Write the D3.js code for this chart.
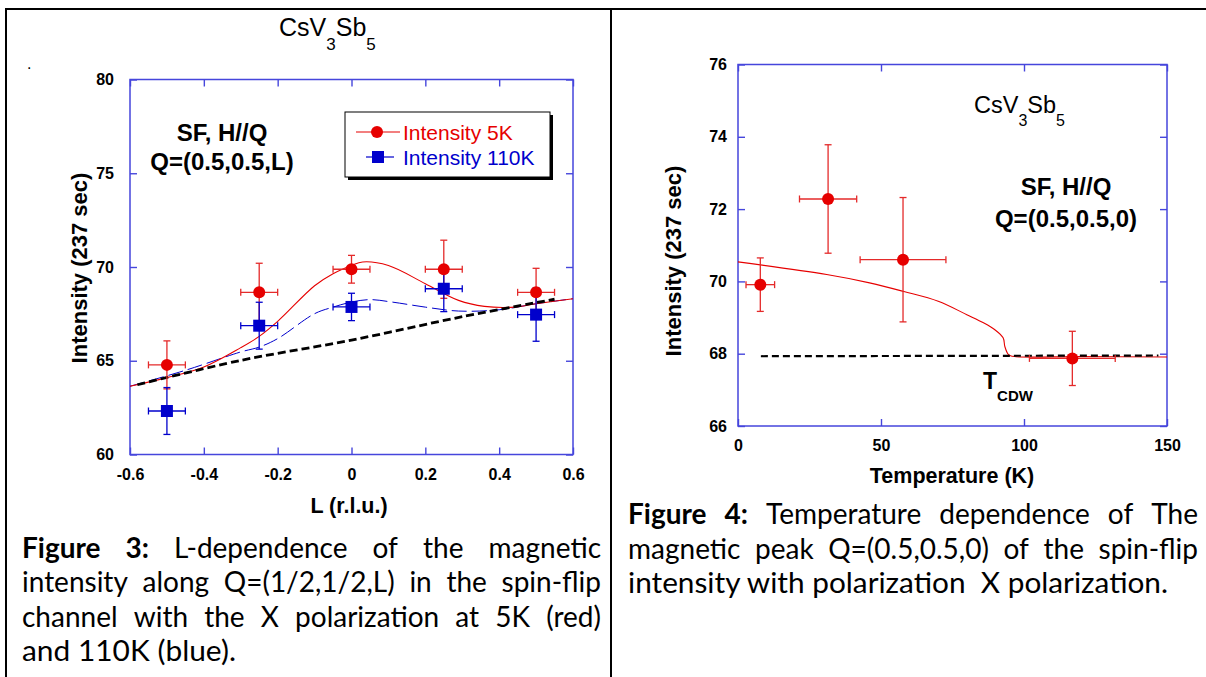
<!DOCTYPE html>
<html><head><meta charset="utf-8">
<script src="https://cdn.jsdelivr.net/npm/d3@7"></script>
<style>
html,body{margin:0;padding:0;background:#fff;}
svg{display:block;}
</style></head><body>
<svg id="c" width="1206" height="677"></svg>
<script>
// ---------- Figure 3 data (L-dependence) ----------
const lTicks = [-0.6, -0.4, -0.2, 0, 0.2, 0.4, 0.6];
const lYTicks = [60, 65, 70, 75, 80];
const lValues = [-0.5, -0.25, 0, 0.25, 0.5];
const lErrX = [0.05, 0.05, 0.05, 0.05, 0.05];
const int5K = [64.78, 68.65, 69.88, 69.88, 68.65];
const err5K = [1.28, 1.55, 0.74, 1.55, 1.28];
const int110K = [62.32, 66.87, 67.87, 68.84, 67.46];
const err110K = [1.25, 1.25, 0.73, 1.22, 1.42];
const fit5KL = [-0.6, -0.5, -0.4, -0.3, -0.25, -0.2, -0.1, -0.05, 0, 0.03, 0.1, 0.2, 0.29, 0.36, 0.44, 0.5, 0.6];
const fit5KI = [63.64, 64.1, 64.67, 65.7, 66.3, 67.1, 69.0, 69.64, 70.08, 70.27, 70.08, 69.11, 68.22, 67.9, 67.86, 68.04, 68.31];
const fit110KL = [-0.6, -0.45, -0.3, -0.25, -0.2, -0.1, -0.05, 0, 0.05, 0.11, 0.2, 0.29, 0.4, 0.5, 0.6];
const fit110KI = [63.64, 64.49, 65.47, 65.73, 66.18, 67.51, 67.86, 68.13, 68.26, 68.13, 67.86, 67.65, 67.72, 68.04, 68.31];
const bgL = [-0.58, -0.3, 0, 0.3, 0.55];
const bgI = [63.72, 65.02, 66.1, 67.35, 68.28];
const legendLabels = ["Intensity 5K", "Intensity 110K"];

// ---------- Figure 4 data (temperature dependence) ----------
const tTicks = [0, 50, 100, 150];
const tYTicks = [66, 68, 70, 72, 74, 76];
const tValues = [7.8, 31.5, 57.7, 116.9];
const tErrX = [5, 10, 15, 15];
const intT = [69.91, 72.28, 70.6, 67.87];
const errT = [0.74, 1.5, 1.72, 0.75];
const fitT = [0, 31, 46, 58, 70, 80, 86, 89.7, 92.7, 93.3, 94.5, 95.8, 120, 150];
const fitTI = [70.54, 70.19, 69.96, 69.72, 69.45, 69.08, 68.85, 68.67, 68.44, 68.2, 67.98, 67.93, 67.92, 67.91];
const bgT = [8, 147];
const bgTI = [67.93, 67.95];

// ---------- captions ----------
const captionLeft = ["Figure 3: L-dependence of the magnetic",
  "intensity along Q=(1/2,1/2,L) in the spin-flip",
  "channel with the X polarization at 5K (red)",
  "and 110K (blue)."];
const captionLeftBold = "Figure 3:";
const captionRight = ["Figure 4: Temperature dependence of The",
  "magnetic peak Q=(0.5,0.5,0) of the spin-flip",
  "intensity with polarization  X polarization."];
const captionRightBold = "Figure 4:";

// ---------- styles ----------
const FRAME = "#4646dc";
const RED = "#e60000";
const RED_BAR = "#e42a2a";
const BLUE = "#0000cc";
const CHART_FONT = "'Liberation Sans', Arial, sans-serif";
const CAP_FONT = "Lato, 'Noto Sans', sans-serif";

const svg = d3.select("#c");

// table borders
const border = svg.append("g").attr("stroke", "#000").attr("stroke-width", 2);
border.append("line").attr("x1", 5).attr("x2", 1206).attr("y1", 9).attr("y2", 9);
border.append("line").attr("x1", 6).attr("x2", 6).attr("y1", 8).attr("y2", 677);
border.append("line").attr("x1", 611).attr("x2", 611).attr("y1", 8).attr("y2", 677);

function zip(a, b) { return a.map((v, i) => [v, b[i]]); }

function drawFrame(g, x, y, xTicks, yTicks, xPad, yPad, xFmt) {
  const [x0, x1] = x.range(), [y0, y1] = y.range();
  const tick = 7;
  const bottom = g.append("g").attr("transform", `translate(0,${y0})`)
    .call(d3.axisBottom(x).tickValues(xTicks).tickSize(-tick).tickSizeOuter(0).tickPadding(xPad).tickFormat(xFmt));
  const top = g.append("g").attr("transform", `translate(0,${y1})`)
    .call(d3.axisTop(x).tickValues(xTicks).tickSize(-tick).tickSizeOuter(0).tickFormat(""));
  const left = g.append("g").attr("transform", `translate(${x0},0)`)
    .call(d3.axisLeft(y).tickValues(yTicks).tickSize(-tick).tickSizeOuter(0).tickPadding(yPad).tickFormat(d => String(d)));
  const right = g.append("g").attr("transform", `translate(${x1},0)`)
    .call(d3.axisRight(y).tickValues(yTicks).tickSize(-tick).tickSizeOuter(0).tickFormat(""));
  [bottom, top, left, right].forEach(a => {
    a.select(".domain").remove();
    a.selectAll("line").attr("stroke", FRAME).attr("stroke-width", 1.4);
    a.selectAll("text").attr("fill", "#000").attr("font-family", CHART_FONT)
      .attr("font-weight", "bold").attr("font-size", 16);
  });
  g.append("rect").attr("x", x0).attr("y", y1).attr("width", x1 - x0).attr("height", y0 - y1)
    .attr("fill", "none").attr("stroke", FRAME).attr("stroke-width", 1.5);
}

function errBars(g, x, y, xs, ys, ex, ey, color, cap) {
  const gg = g.append("g").attr("stroke", color).attr("stroke-width", 1.3).attr("fill", "none");
  xs.forEach((xv, i) => {
    const cx = x(xv), cy = y(ys[i]);
    const xa = x(xv - ex[i]), xb = x(xv + ex[i]);
    const ya = y(ys[i] + ey[i]), yb = y(ys[i] - ey[i]);
    gg.append("line").attr("x1", xa).attr("x2", xb).attr("y1", cy).attr("y2", cy);
    gg.append("line").attr("x1", cx).attr("x2", cx).attr("y1", ya).attr("y2", yb);
    gg.append("line").attr("x1", xa).attr("x2", xa).attr("y1", cy - cap).attr("y2", cy + cap);
    gg.append("line").attr("x1", xb).attr("x2", xb).attr("y1", cy - cap).attr("y2", cy + cap);
    gg.append("line").attr("x1", cx - cap).attr("x2", cx + cap).attr("y1", ya).attr("y2", ya);
    gg.append("line").attr("x1", cx - cap).attr("x2", cx + cap).attr("y1", yb).attr("y2", yb);
  });
}

function chemTitle(g, x, y, size, subSize, anchor) {
  const t = g.append("text").attr("x", x).attr("y", y).attr("font-family", CHART_FONT)
    .attr("font-size", size).attr("fill", "#000").attr("text-anchor", anchor || "start");
  const d = Math.round(size * 0.55);
  t.append("tspan").text("CsV");
  t.append("tspan").attr("dy", d).attr("font-size", subSize).text("3");
  t.append("tspan").attr("dy", -d).text("Sb");
  t.append("tspan").attr("dy", d).attr("font-size", subSize).text("5");
}

function boldText(g, x, y, str, size, anchor) {
  return g.append("text").attr("x", x).attr("y", y).attr("font-family", CHART_FONT)
    .attr("font-weight", "bold").attr("font-size", size).attr("fill", "#000")
    .attr("text-anchor", anchor || "middle").text(str);
}

// ================= Figure 3 =================
const gL = svg.append("g");
const xL = d3.scaleLinear().domain([-0.6, 0.6]).range([130, 573]);
const yL = d3.scaleLinear().domain([60, 80]).range([454.5, 79.5]);

drawFrame(gL, xL, yL, lTicks, lYTicks, 14, 16, d => String(d));

const lineL = d3.line().x(d => xL(d[0])).y(d => yL(d[1])).curve(d3.curveCatmullRom.alpha(0.5));
gL.append("path").attr("d", lineL(zip(fit110KL, fit110KI))).attr("fill", "none")
  .attr("stroke", BLUE).attr("stroke-width", 1).attr("stroke-dasharray", "15,5");
gL.append("path").attr("d", lineL(zip(fit5KL, fit5KI))).attr("fill", "none")
  .attr("stroke", RED).attr("stroke-width", 1.1);
gL.append("path").attr("d", lineL(zip(bgL, bgI))).attr("fill", "none")
  .attr("stroke", "#000").attr("stroke-width", 2.8).attr("stroke-dasharray", "8,4");

errBars(gL, xL, yL, lValues, int5K, lErrX, err5K, RED_BAR, 3.5);
errBars(gL, xL, yL, lValues, int110K, lErrX, err110K, BLUE, 3.5);
gL.append("g").selectAll("circle").data(lValues).join("circle")
  .attr("cx", d => xL(d)).attr("cy", (d, i) => yL(int5K[i])).attr("r", 6).attr("fill", RED);
gL.append("g").selectAll("rect").data(lValues).join("rect")
  .attr("x", d => xL(d) - 6).attr("y", (d, i) => yL(int110K[i]) - 6)
  .attr("width", 12).attr("height", 12).attr("fill", BLUE);

// legend
const lg = gL.append("g");
lg.append("rect").attr("x", 348).attr("y", 115).attr("width", 205).attr("height", 65).attr("fill", "#000");
lg.append("rect").attr("x", 345).attr("y", 112).attr("width", 205).attr("height", 65)
  .attr("fill", "#fff").attr("stroke", "#000").attr("stroke-width", 1);
const legColors = [RED, BLUE];
legendLabels.forEach((lab, i) => {
  const yy = 132 + i * 25;
  lg.append("line").attr("x1", i === 0 ? 356 : 366).attr("x2", i === 0 ? 400 : 394)
    .attr("y1", yy).attr("y2", yy).attr("stroke", legColors[i]).attr("stroke-width", 1.2);
  if (i === 0) lg.append("circle").attr("cx", 377).attr("cy", yy).attr("r", 6).attr("fill", RED);
  else lg.append("rect").attr("x", 372).attr("y", yy - 6).attr("width", 12).attr("height", 12).attr("fill", BLUE);
  lg.append("text").attr("x", 403).attr("y", yy + 8).attr("font-family", CHART_FONT)
    .attr("font-size", 21).attr("fill", legColors[i]).text(lab);
});

boldText(gL, 222, 140.5, "SF, H//Q", 24);
boldText(gL, 222, 170, "Q=(0.5,0.5,L)", 24);
chemTitle(gL, 279, 36, 25, 17);
gL.append("text").attr("x", 27).attr("y", 69).attr("font-family", CHART_FONT).attr("font-size", 16).text(".");
boldText(gL, 349, 512.7, "L (r.l.u.)", 21.5);
boldText(gL, 0, 0, "Intensity (237 sec)", 22).attr("transform", "translate(86.5,268) rotate(-90)");

// ================= Figure 4 =================
const gR = svg.append("g");
const xR = d3.scaleLinear().domain([0, 150]).range([738, 1167]);
const yR = d3.scaleLinear().domain([66, 76]).range([426, 64.5]);
drawFrame(gR, xR, yR, tTicks, tYTicks, 14, 11, d => String(d));

const lineR = d3.line().x(d => xR(d[0])).y(d => yR(d[1])).curve(d3.curveCatmullRom.alpha(0.5));
gR.append("path").attr("d", lineR(zip(fitT, fitTI))).attr("fill", "none")
  .attr("stroke", RED).attr("stroke-width", 1.1);
gR.append("path").attr("d", lineR(zip(bgT, bgTI))).attr("fill", "none")
  .attr("stroke", "#000").attr("stroke-width", 2.2).attr("stroke-dasharray", "7,4");
errBars(gR, xR, yR, tValues, intT, tErrX, errT, RED_BAR, 3.5);
gR.append("g").selectAll("circle").data(tValues).join("circle")
  .attr("cx", d => xR(d)).attr("cy", (d, i) => yR(intT[i])).attr("r", 6).attr("fill", RED);

chemTitle(gR, 974, 113, 23.5, 16);
boldText(gR, 1066, 195, "SF, H//Q", 24);
boldText(gR, 1066, 227, "Q=(0.5,0.5,0)", 24);
const tc = gR.append("text").attr("x", 983).attr("y", 388.5).attr("font-family", CHART_FONT)
  .attr("font-weight", "bold").attr("fill", "#000").attr("font-size", 23);
tc.append("tspan").text("T");
tc.append("tspan").attr("font-size", 15).attr("dy", 12).text("CDW");
boldText(gR, 952, 483, "Temperature (K)", 21.5);
boldText(gR, 0, 0, "Intensity (237 sec)", 22).attr("transform", "translate(681,261) rotate(-90)");

// ================= captions =================
function caption(lines, boldPrefix, x0, x1, baselines, size, lastWidth) {
  const g = svg.append("g").attr("font-family", CAP_FONT).attr("font-size", size).attr("fill", "#000");
  lines.forEach((line, li) => {
    const y = baselines[li];
    const last = li === lines.length - 1;
    if (last) {
      const t = g.append("text").attr("x", x0).attr("y", y).style("white-space", "pre");
      if (line.startsWith(boldPrefix)) {
        t.append("tspan").attr("font-weight", "bold").text(boldPrefix);
        t.append("tspan").text(line.slice(boldPrefix.length));
      } else t.text(line);
      if (lastWidth) t.attr("textLength", lastWidth).attr("lengthAdjust", "spacingAndGlyphs");
      return;
    }
    const words = line.split(/\s+/);
    const boldWords = li === 0 ? boldPrefix.split(/\s+/).length : 0;
    const lg2 = g.append("g");
    const els = words.map((w, wi) => lg2.append("text").attr("y", y)
      .attr("font-weight", wi < boldWords ? "bold" : "normal").text(w));
    const widths = els.map(e => e.node().getComputedTextLength());
    const sum = d3.sum(widths);
    const minGap = size * 0.2;
    let gap = (x1 - x0 - sum) / (words.length - 1);
    let sx = 1;
    if (gap < minGap) { gap = minGap; sx = (x1 - x0) / (sum + minGap * (words.length - 1)); }
    let cx = 0;
    els.forEach((e, i) => { e.attr("x", cx); cx += widths[i] + gap; });
    lg2.attr("transform", `translate(${x0},0) scale(${sx},1)`);
  });
}
caption(captionLeft, captionLeftBold, 22, 601, [558, 592, 627, 661], 28, 214);
caption(captionRight, captionRightBold, 628, 1198, [524, 558.5, 593], 28, 540);
</script>
</body></html>
